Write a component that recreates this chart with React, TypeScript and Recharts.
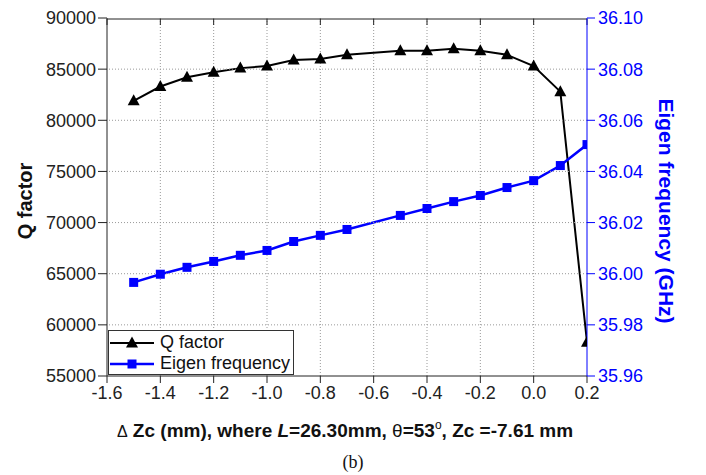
import React from 'react';
import { ComposedChart, Line, XAxis, YAxis, Legend } from 'recharts';

const dzc = [-1.5, -1.4, -1.3, -1.2, -1.1, -1.0, -0.9, -0.8, -0.7, -0.5, -0.4, -0.3, -0.2, -0.1, 0.0, 0.1, 0.2];
const qFactor = [81900, 83300, 84200, 84700, 85100, 85300, 85900, 86000, 86400, 86800, 86800, 87000, 86800, 86400, 85300, 82800, 58300];
const eigenFreq = [35.9966, 35.9998, 36.0025, 36.0048, 36.0072, 36.0091, 36.0126, 36.015, 36.0173, 36.0228, 36.0255, 36.0282, 36.0306, 36.0337, 36.0364, 36.0423, 36.0505];

const xTicks = [-1.6, -1.4, -1.2, -1.0, -0.8, -0.6, -0.4, -0.2, 0.0, 0.2];
const qTicks = [55000, 60000, 65000, 70000, 75000, 80000, 85000, 90000];
const fTicks = [35.96, 35.98, 36.0, 36.02, 36.04, 36.06, 36.08, 36.1];

const data = dzc.map((x, i) => ({ x, q: qFactor[i], f: eigenFreq[i] }));

const FONT = '"Liberation Sans", Arial, Helvetica, sans-serif';
const BLUE = '#0000ff';
const GRID = '#999999';
const PLOT_W = 480;
const PLOT_H = 358;

const Triangle = (props: any) => {
  const { cx, cy } = props;
  if (cx == null || cy == null) return null;
  return <polygon points={`${cx},${cy - 6.5} ${cx - 6},${cy + 4.5} ${cx + 6},${cy + 4.5}`} fill="#000" />;
};

const Square = (props: any) => {
  const { cx, cy } = props;
  if (cx == null || cy == null) return null;
  return <rect x={cx - 4.5} y={cy - 4.5} width={9} height={9} fill={BLUE} />;
};

const LegendBox = () => (
  <div
    style={{
      width: 186,
      height: 45,
      border: '1px solid #333',
      background: '#fff',
      boxSizing: 'border-box',
      fontFamily: FONT,
      fontSize: 18,
      color: '#111',
      paddingTop: 1,
    }}
  >
    <div style={{ display: 'flex', alignItems: 'center', height: 21 }}>
      <svg width={50} height={20} style={{ marginLeft: 1, flex: 'none' }}>
        <line x1={0} y1={10} x2={44} y2={10} stroke="#000" strokeWidth={2} />
        <polygon points="22,3.5 16,14.5 28,14.5" fill="#000" />
      </svg>
      <span style={{ whiteSpace: 'nowrap' }}>Q factor</span>
    </div>
    <div style={{ display: 'flex', alignItems: 'center', height: 21 }}>
      <svg width={50} height={20} style={{ marginLeft: 1, flex: 'none' }}>
        <line x1={0} y1={10} x2={44} y2={10} stroke={BLUE} strokeWidth={2.5} />
        <rect x={17.5} y={5.5} width={9} height={9} fill={BLUE} />
      </svg>
      <span style={{ whiteSpace: 'nowrap' }}>Eigen frequency</span>
    </div>
  </div>
);

export default function App() {
  return (
    <div style={{ position: 'absolute', left: 0, top: 0, width: 706, height: 475, background: '#fff' }}>
      <ComposedChart width={706} height={475} data={data} margin={{ top: 18, right: 0, bottom: 0, left: 0 }}>
        {/* vertical dotted grid drawn as long inward tick lines of a mirrored axis */}
        <XAxis
          xAxisId="gridx"
          dataKey="x"
          type="number"
          orientation="top"
          domain={[-1.6, 0.2]}
          ticks={xTicks.slice(1, -1)}
          interval={0}
          height={1}
          mirror
          axisLine={false}
          tickSize={PLOT_H}
          tickLine={{ stroke: GRID, strokeWidth: 1, strokeDasharray: '1 2' }}
          tick={{ fontSize: 1, fill: 'none' }}
        />
        {/* horizontal dotted grid drawn as long inward tick lines of a mirrored axis */}
        <YAxis
          yAxisId="gridy"
          dataKey="q"
          type="number"
          orientation="left"
          domain={[55000, 90000]}
          ticks={qTicks.slice(1, -1)}
          interval={0}
          width={1}
          mirror
          axisLine={false}
          tickSize={PLOT_W}
          tickLine={{ stroke: GRID, strokeWidth: 1, strokeDasharray: '1 2' }}
          tick={{ fontSize: 1, fill: 'none' }}
        />
        <XAxis
          dataKey="x"
          type="number"
          domain={[-1.6, 0.2]}
          ticks={xTicks}
          interval={0}
          allowDataOverflow
          tickFormatter={(v: number) => v.toFixed(1)}
          height={99}
          stroke="#222"
          tickSize={7}
          tickMargin={3}
          tick={{ fill: '#222', fontSize: 18, fontFamily: FONT }}
          label={{
            content: () => (
              <text x={345} y={437} textAnchor="middle" fontFamily={FONT} fontSize={19} fontWeight="bold" fill="#111">
                <tspan fontWeight="normal" fontSize={16}>{'\u0394'}</tspan>
                {' Zc (mm), where '}
                <tspan fontStyle="italic">L</tspan>
                {'=26.30mm, '}
                <tspan fontWeight="normal">{'\u03b8'}</tspan>
                {'=53'}
                <tspan dy={-8} fontSize={12} fontWeight="normal">o</tspan>
                <tspan dy={8}>{', Zc =-7.61 mm'}</tspan>
              </text>
            ),
          }}
        />
        <XAxis
          xAxisId="top"
          dataKey="x"
          type="number"
          orientation="top"
          domain={[-1.6, 0.2]}
          ticks={xTicks}
          interval={0}
          height={1}
          mirror
          stroke="#222"
          tickSize={6}
          tick={{ fontSize: 1, fill: 'none' }}
        />
        <YAxis
          yAxisId="left"
          type="number"
          domain={[55000, 90000]}
          ticks={qTicks}
          interval={0}
          width={107}
          stroke="#222"
          tickSize={9}
          tickMargin={2}
          tick={{ fill: '#222', fontSize: 18, fontFamily: FONT }}
          label={{
            content: () => (
              <text
                x={32}
                y={201}
                textAnchor="middle"
                transform="rotate(-90 32 201)"
                fontFamily={FONT}
                fontSize={20}
                fontWeight="bold"
                fill="#111"
              >
                Q factor
              </text>
            ),
          }}
        />
        <YAxis
          yAxisId="right"
          orientation="right"
          type="number"
          domain={[35.96, 36.1]}
          ticks={fTicks}
          interval={0}
          width={119}
          stroke={BLUE}
          tickSize={8}
          tickMargin={3}
          tickFormatter={(v: number) => v.toFixed(2)}
          tick={{ fill: BLUE, fontSize: 18, fontFamily: FONT }}
          label={{
            content: () => (
              <text
                x={659}
                y={211}
                textAnchor="middle"
                transform="rotate(90 659 211)"
                fontFamily={FONT}
                fontSize={21}
                fontWeight="bold"
                fill={BLUE}
              >
                Eigen frequency (GHz)
              </text>
            ),
          }}
        />
        <Legend
          layout="horizontal"
          verticalAlign="middle"
          align="center"
          content={() => <LegendBox />}
          wrapperStyle={{ left: 108, top: 330, width: 186, height: 45 }}
        />
        <Line
          yAxisId="left"
          dataKey="q"
          stroke="#000"
          strokeWidth={2}
          dot={<Triangle />}
          activeDot={false}
          isAnimationActive={false}
        />
        <Line
          yAxisId="right"
          dataKey="f"
          stroke={BLUE}
          strokeWidth={2.5}
          dot={<Square />}
          activeDot={false}
          isAnimationActive={false}
        />
      </ComposedChart>
      <div
        style={{
          position: 'absolute',
          left: 0,
          width: 706,
          top: 452,
          textAlign: 'center',
          fontFamily: '"Liberation Serif", "Times New Roman", serif',
          fontSize: 18,
          color: '#111',
          boxSizing: 'border-box',
        }}
      >
        (b)
      </div>
    </div>
  );
}
